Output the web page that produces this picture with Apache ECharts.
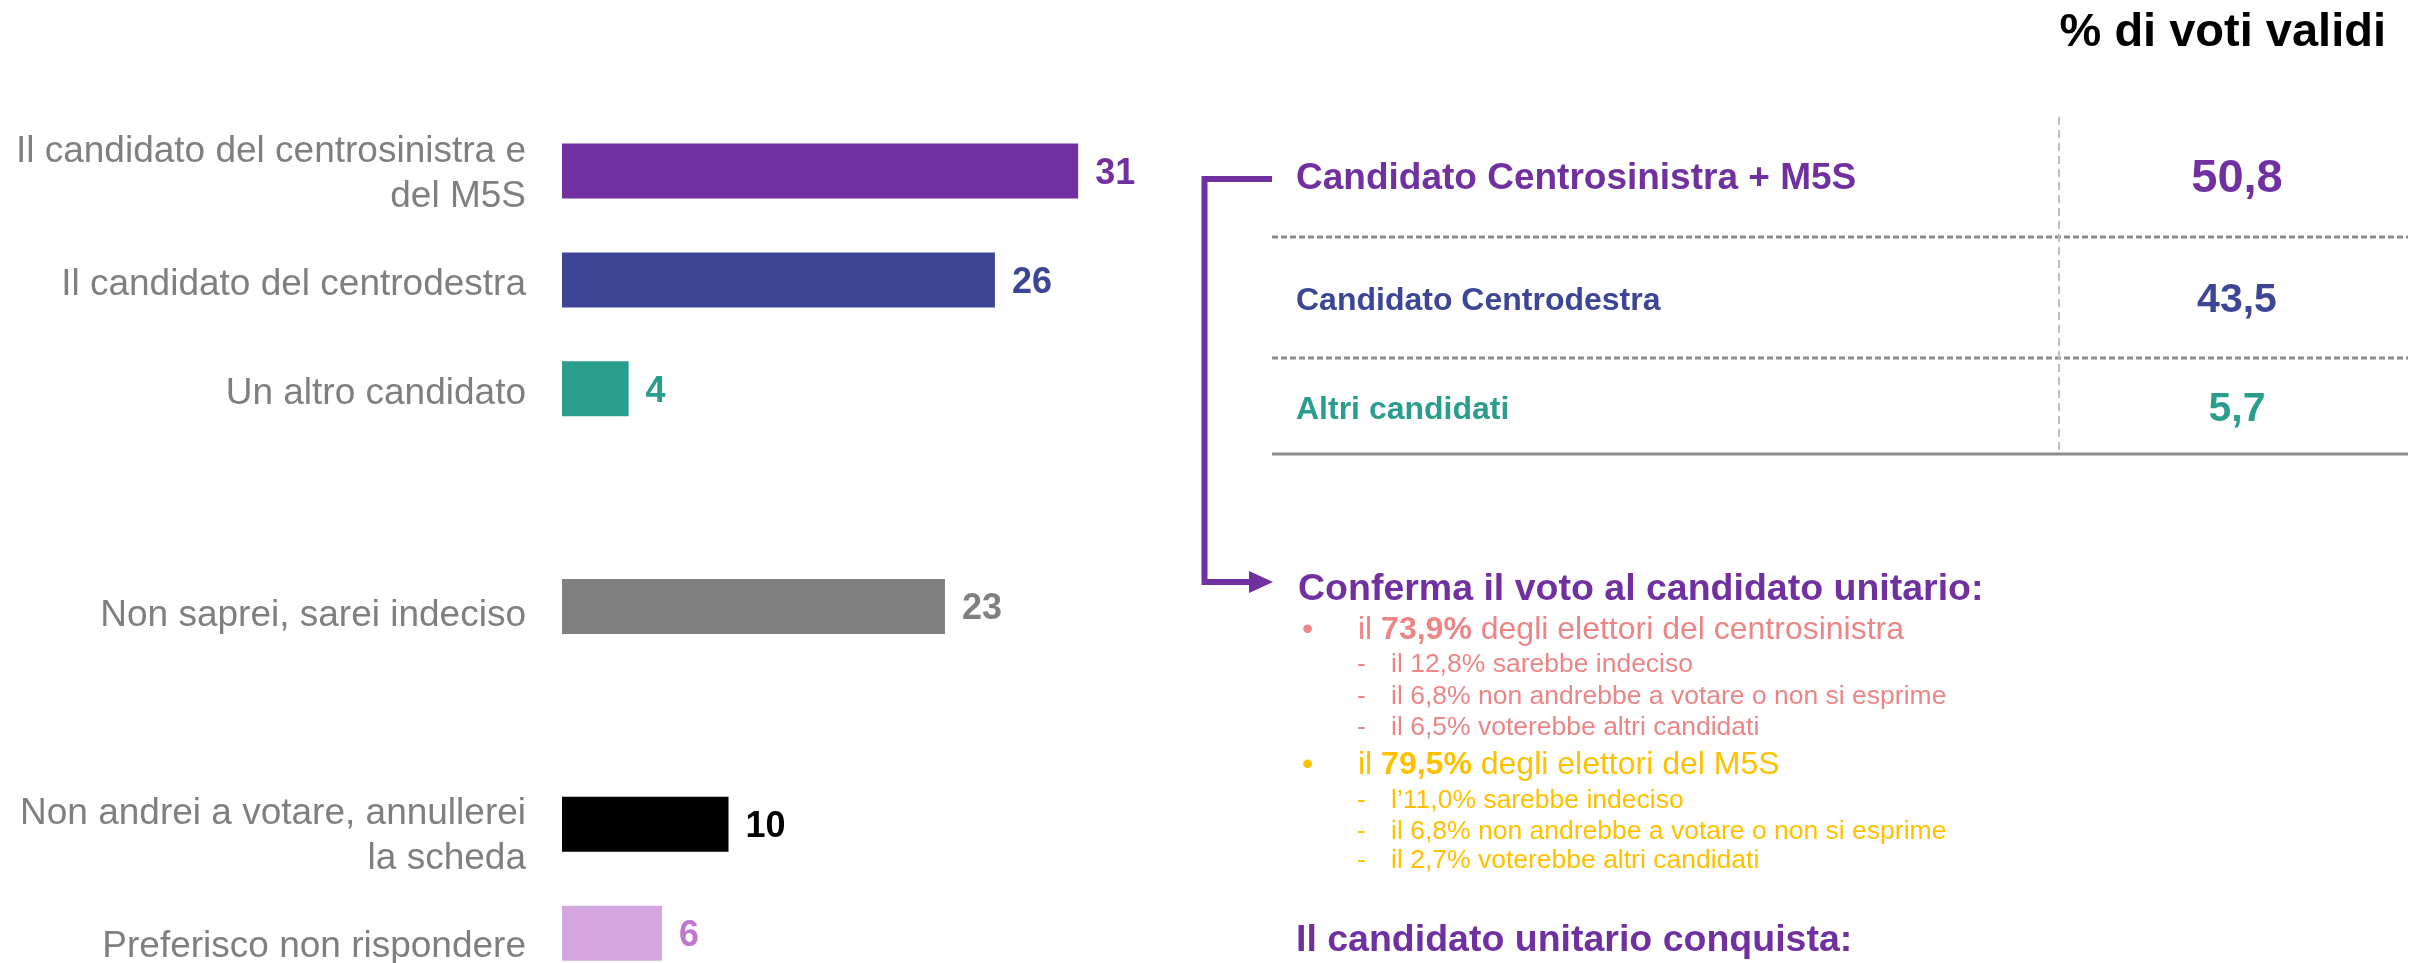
<!DOCTYPE html>
<html><head><meta charset="utf-8">
<script src="https://cdn.jsdelivr.net/npm/echarts@6/dist/echarts.min.js"></script>
<style>html,body{margin:0;padding:0;background:#fff}#c{width:2425px;height:963px}</style>
</head><body><div id="c"></div>
<script>
// ---- data ----
const categories = [
  'Il candidato del centrosinistra e\ndel M5S',
  'Il candidato del centrodestra',
  'Un altro candidato',
  'Non saprei, sarei indeciso',
  'Non andrei a votare, annullerei\nla scheda',
  'Preferisco non rispondere'
];
const values = [31, 26, 4, 23, 10, 6];
const tableTitle = '% di voti validi';
const tableLabels = ['Candidato Centrosinistra + M5S', 'Candidato Centrodestra', 'Altri candidati'];
const tableValues = ['50,8', '43,5', '5,7'];
const confermaTitle = 'Conferma il voto al candidato unitario:';
const groupPct = ['73,9%', '79,5%'];
const groupText = [' degli elettori del centrosinistra', ' degli elettori del M5S'];
const groupSubs = [
  ['il 12,8% sarebbe indeciso', 'il 6,8% non andrebbe a votare o non si esprime', 'il 6,5% voterebbe altri candidati'],
  ['l\u201911,0% sarebbe indeciso', 'il 6,8% non andrebbe a votare o non si esprime', 'il 2,7% voterebbe altri candidati']
];
const conquistaTitle = 'Il candidato unitario conquista:';

// ---- styles / layout ----
const FF = '"Liberation Sans", Arial, sans-serif';
const barColors = ['#7030A0', '#3C4596', '#2A9D8C', '#808080', '#000000', '#D4A6DF'];
const labelColors = ['#7030A0', '#3C4596', '#2A9D8C', '#808080', '#000000', '#BF78D0'];
const rowColors = ['#7030A0', '#3C4596', '#2A9D8C'];
const groupColors = ['#EC8585', '#FFC000'];
const PURPLE = '#7030A0';
const gapsAfter = [2, 3];
const labelShift = [3, 5, 5, 9, 12, 14];   // vertical nudge of category labels (px)

const slotCats = [], slotVals = [], catLabelData = [];
categories.forEach((c, i) => {
  const idx = slotCats.length;
  slotCats.push(c);
  slotVals.push({ value: values[i], itemStyle: { color: barColors[i] }, label: { color: labelColors[i] } });
  catLabelData.push({ value: [0, idx], name: c, label: { offset: [0, labelShift[i]] } });
  if (gapsAfter.includes(i)) { slotCats.push(''); slotVals.push('-'); }
});

const g = [];
const D = 3; // text nudge
// title
g.push({ type: 'text', x: 2386, y: 33, style: { text: tableTitle, font: 'bold 47px ' + FF, fill: '#000', textAlign: 'right', textVerticalAlign: 'middle' } });
// table
const rowY = [176, 298, 407];
const rowFont = [37, 32, 32];
const valFont = [47, 41, 41];
tableLabels.forEach((t, i) => {
  g.push({ type: 'text', x: 1296, y: rowY[i] + D, style: { text: t, font: 'bold ' + rowFont[i] + 'px ' + FF, fill: rowColors[i], textAlign: 'left', textVerticalAlign: 'middle' } });
  g.push({ type: 'text', x: 2237, y: rowY[i] + 3, style: { text: tableValues[i], font: 'bold ' + valFont[i] + 'px ' + FF, fill: rowColors[i], textAlign: 'center', textVerticalAlign: 'middle' } });
});
[237, 358].forEach(y => g.push({ type: 'line', shape: { x1: 1272, y1: y, x2: 2408, y2: y }, style: { stroke: '#8C8C8C', lineWidth: 3, lineDash: [6, 3] } }));
g.push({ type: 'line', shape: { x1: 1272, y1: 454, x2: 2408, y2: 454 }, style: { stroke: '#8C8C8C', lineWidth: 3 } });
g.push({ type: 'line', shape: { x1: 2059, y1: 117, x2: 2059, y2: 452 }, style: { stroke: '#C0C0C0', lineWidth: 2, lineDash: [8, 5] } });
// bracket arrow
g.push({ type: 'polyline', shape: { points: [[1272, 179], [1204.5, 179], [1204.5, 582], [1252, 582]] }, style: { stroke: PURPLE, lineWidth: 6, fill: null, lineJoin: 'miter' } });
g.push({ type: 'polygon', shape: { points: [[1249, 571], [1273, 582], [1249, 593]] }, style: { fill: PURPLE } });
// bottom text
g.push({ type: 'text', x: 1298, y: 587 + D, style: { text: confermaTitle, font: 'bold 37.5px ' + FF, fill: PURPLE, textAlign: 'left', textVerticalAlign: 'middle' } });
const bulletY = [627, 762];
const subY = [[662, 694, 725], [798, 829, 858]];
groupPct.forEach((p, k) => {
  const col = groupColors[k];
  g.push({ type: 'text', x: 1302, y: bulletY[k] + D, style: { text: '\u2022', font: '32px ' + FF, fill: col, textAlign: 'left', textVerticalAlign: 'middle' } });
  g.push({ type: 'text', x: 1358, y: bulletY[k] + D, style: {
    text: '{n|il }{b|' + p + '}{n|' + groupText[k] + '}', font: '32px ' + FF, fill: col, textAlign: 'left', textVerticalAlign: 'middle',
    rich: { n: { fontSize: 32, fontFamily: FF, fill: col }, b: { fontSize: 32, fontFamily: FF, fontWeight: 'bold', fill: col } } } });
  groupSubs[k].forEach((s, j) => {
    g.push({ type: 'text', x: 1357, y: subY[k][j] + D, style: { text: '-', font: '26.5px ' + FF, fill: col, textAlign: 'left', textVerticalAlign: 'middle' } });
    g.push({ type: 'text', x: 1391, y: subY[k][j] + D, style: { text: s, font: '26.5px ' + FF, fill: col, textAlign: 'left', textVerticalAlign: 'middle' } });
  });
});
g.push({ type: 'text', x: 1296, y: 938 + D, style: { text: conquistaTitle, font: 'bold 37.5px ' + FF, fill: PURPLE, textAlign: 'left', textVerticalAlign: 'middle' } });

const chart = echarts.init(document.getElementById('c'), null, { renderer: 'canvas' });
chart.setOption({
  backgroundColor: '#fff',
  animation: false,
  grid: { left: 562, top: 116.6, width: 666, height: 871, containLabel: false, outerBoundsMode: 'none' },
  xAxis: { type: 'value', min: 0, max: 40, show: false },
  yAxis: {
    type: 'category', data: slotCats, inverse: true,
    axisLine: { show: false }, axisTick: { show: false }, splitLine: { show: false },
    axisLabel: { show: false }
  },
  series: [{
    type: 'bar', data: slotVals, barWidth: 55,
    label: { show: true, position: 'right', distance: 17, offset: [0, 3], fontSize: 36, fontWeight: 'bold', fontFamily: FF }
  }, {
    type: 'scatter', data: catLabelData, symbol: 'circle', symbolSize: 2, silent: true,
    itemStyle: { color: 'rgba(255,255,255,0)' },
    label: { show: true, position: 'left', distance: 35, align: 'right', verticalAlign: 'middle', opacity: 1,
      formatter: p => p.name, color: '#7F7F7F', fontSize: 37, fontFamily: FF, lineHeight: 45 }
  }],
  graphic: g
});
</script></body></html>
